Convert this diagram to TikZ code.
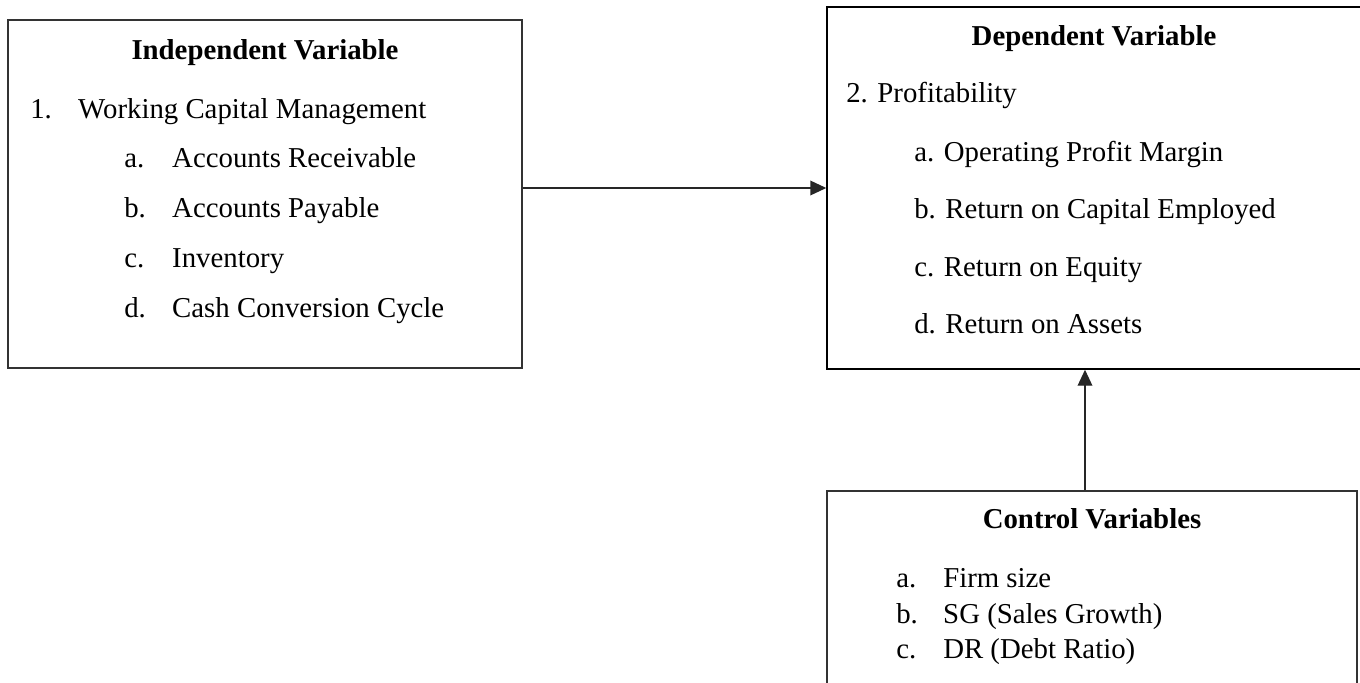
\documentclass[tikz,border=0pt]{standalone}
\usepackage{fontspec}
\setmainfont{Liberation Serif}
\usetikzlibrary{arrows.meta,calc,positioning}

\tikzset{
  varbox/.style={draw=black!80, line width=1.1pt, inner sep=0pt},
  itemtxt/.style={anchor=base west, inner sep=0pt, font=\fontsize{21.6}{26}\selectfont},
  headtxt/.style={anchor=base, inner sep=0pt, font=\fontsize{21.6}{26}\selectfont\bfseries},
  flow/.style={draw=black!85, line width=1.1pt, -{Triangle[length=12pt,width=11pt]}}
}

\begin{document}
\begin{tikzpicture}[x=0.75pt,y=0.75pt,yscale=-1,xscale=1]
\useasboundingbox (0,0) rectangle (1360,682);

%Boxes
\node[varbox, minimum width=385.5pt, minimum height=261pt] (indep) at (265,194) {};
\node[varbox, draw=black, minimum width=400.5pt, minimum height=271.5pt] (dep) at (1094,188) {};
\node[varbox, minimum width=397.5pt, minimum height=164.25pt] (ctrl) at (1092,600.5) {};

% Independent variable
\node[headtxt] (indephead) at (265,59) {Independent Variable};
\node[itemtxt] (wcm) at (30,118) {\makebox[36pt][l]{1.}Working Capital Management};
\node[itemtxt] (ar) at (124,167) {\makebox[36pt][l]{a.}Accounts Receivable};
\node[itemtxt] (ap) at (124,217) {\makebox[36pt][l]{b.}Accounts Payable};
\node[itemtxt] (inv) at (124,267) {\makebox[36pt][l]{c.}Inventory};
\node[itemtxt] (ccc) at (124,317) {\makebox[36pt][l]{d.}Cash Conversion Cycle};

% Dependent variable
\node[headtxt] (dephead) at (1094,45) {Dependent Variable};
\node[itemtxt] (prof) at (846,102) {2. Profitability};
\node[itemtxt] (opm) at (914,161) {a. Operating Profit Margin};
\node[itemtxt] (roce) at (914,218) {b. Return on Capital Employed};
\node[itemtxt] (roe) at (914,276) {c. Return on Equity};
\node[itemtxt] (roa) at (914,333) {d. Return on Assets};

% Control variables
\node[headtxt] (ctrlhead) at (1092,528) {Control Variables};
\node[itemtxt] (size) at (896,587) {\makebox[35.25pt][l]{a.}Firm size};
\node[itemtxt] (sg) at (896,623) {\makebox[35.25pt][l]{b.}SG (Sales Growth)};
\node[itemtxt] (dr) at (896,658) {\makebox[35.25pt][l]{c.}DR (Debt Ratio)};

% Arrows
\draw[flow] (indep.east |- dep.west) -- (dep.west);
\coordinate (ctrltop) at ($(ctrl.north)+(-7,0)$);
\draw[flow] (ctrltop) -- (ctrltop |- dep.south);

\end{tikzpicture}
\end{document}
